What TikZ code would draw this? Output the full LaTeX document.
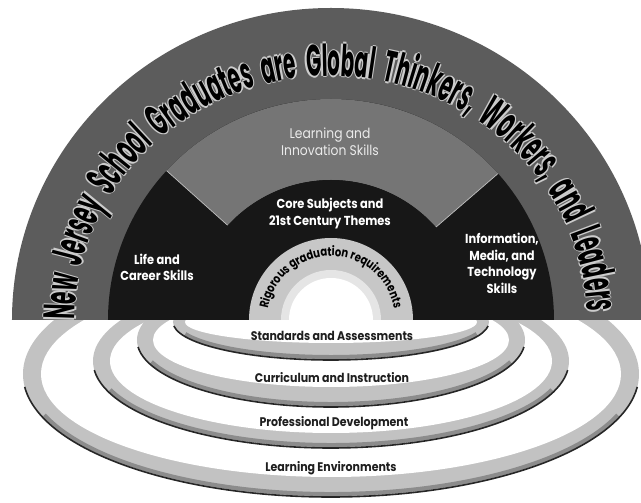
\documentclass[tikz,border=0pt]{standalone}
\usepackage{fontspec}
\setmainfont{Poppins}
\newfontfamily\labfont{Poppins}[FakeStretch=0.88]
\newfontfamily\rigfont{Poppins}[FakeStretch=0.8]
\newfontfamily\titfont{Poppins}[FakeStretch=0.45]
\usetikzlibrary{decorations.text}
\definecolor{outerband}{gray}{0.36}
\definecolor{sectorgray}{gray}{0.46}
\definecolor{darkreg}{gray}{0.09}
\definecolor{platebnd}{gray}{0.76}
\definecolor{ringgray}{gray}{0.78}
\tikzset{
  lab/.style={text=white, align=center, inner sep=0pt,
    font=\labfont\bfseries\fontsize{13}{16.5}\selectfont},
  lablight/.style={text=white!92!black, align=center, inner sep=0pt,
    font=\labfont\fontsize{14}{17}\selectfont},
  platelab/.style={text=black!88, inner sep=0pt,
    font=\labfont\bfseries\fontsize{12.5}{14}\selectfont},
  rim/.style={draw=black!85, line width=1.6pt},
  rimshade/.style={draw=black!45, line width=4pt},
  titlehalo/.style={decorate, decoration={text along path,
    text align={fit to path stretching spaces}, raise=#1,
    text={|\titfont\bfseries\fontsize{44}{44}\selectfont\color{white!80!black}|New Jersey School Graduates are Global Thinkers, Workers, and Leaders}}},
}
\begin{document}
\begin{tikzpicture}[x=1pt,y=1pt]
\useasboundingbox (-331,-183) rectangle (310,320);
\clip (-331,-183) rectangle (310,320);
\fill[white] (-331,-183) rectangle (310,320);

% ---- stacked plates (largest first)
\foreach \cy/\rx/\ry/\irx/\iry in {-54/308/123/290/103, -41/238/87/221/72, -20/194/67/178/47, -2/158/38/146/21} {
  \fill[platebnd] (0,\cy) ellipse [x radius=\rx, y radius=\ry];
  \draw[rimshade] (0,\cy) ++(200:{\rx-3} and {\ry-3}) arc[start angle=200, end angle=340, x radius=\rx-3, y radius=\ry-3];
  \draw[rim] (0,\cy) ++(186:{\rx} and {\ry}) arc[start angle=186, end angle=354, x radius=\rx, y radius=\ry];
  \fill[white] (0,\cy) ellipse [x radius=\irx, y radius=\iry];
}

% ---- semicircle
\fill[outerband] (-319,0) arc[start angle=180, end angle=0, x radius=319, y radius=312] -- cycle;
\fill[darkreg] (-223,0) arc[start angle=180, end angle=0, x radius=223, y radius=221] -- cycle;
\fill[sectorgray] (137.5:140) -- (137.5:223 and 221)
   arc[start angle=137.5, end angle=41.5, x radius=223, y radius=221]
   -- (41.5:140) arc[start angle=41.5, end angle=137.5, radius=140] -- cycle;
\draw[black!25, line width=0.7pt] (137.5:223 and 221) -- (137.5:140);
\draw[black!25, line width=0.7pt] (41.5:223 and 221) -- (41.5:140);
\fill[darkreg] (-140,0) arc[start angle=180, end angle=0, radius=140] -- cycle;

% inner disc
\fill[ringgray] (-82,0) arc[start angle=180, end angle=0, radius=82] -- cycle;
\fill[black!10] (-50,0) arc[start angle=180, end angle=0, radius=50] -- cycle;
\fill[white] (-42,0) arc[start angle=180, end angle=0, radius=42] -- cycle;

% ---- title along the outer band (white halo, then black)
\path[titlehalo=1.3pt] (180:256 and 244) arc[start angle=180, end angle=2, x radius=256, y radius=244];
\path[titlehalo=-1.3pt] (180:256 and 244) arc[start angle=180, end angle=2, x radius=256, y radius=244];
\path[titlehalo=0pt] (180.35:256 and 244) arc[start angle=180.35, end angle=2.35, x radius=256, y radius=244];
\path[titlehalo=0pt] (179.65:256 and 244) arc[start angle=179.65, end angle=1.65, x radius=256, y radius=244];
\path[decorate, decoration={text along path, text align={fit to path stretching spaces},
  text={|\titfont\bfseries\fontsize{44}{44}\selectfont\color{black}|New Jersey School Graduates are Global Thinkers, Workers, and Leaders}}]
  (180:256 and 244) arc[start angle=180, end angle=2, x radius=256, y radius=244];

% ---- rigorous text
\path[decorate, decoration={text along path, text align=center,
  text={|\rigfont\bfseries\fontsize{12.5}{12.5}\selectfont\color{black}|Rigorous graduation requirements}}]
  (173:64) arc[start angle=173, end angle=7, radius=64];

% ---- labels
\node[lablight] (learn) at (-1,178.5) {Learning and\\Innovation Skills};
\node[lab] (core) at (-1,106.5) {Core Subjects and\\21st Century Themes};
\node[lab] (life) at (-174,52.5) {Life and\\Career Skills};
\node[lab] (info) at (171,56.5) {Information,\\Media, and\\Technology\\Skills};

\node[platelab] (std) at (1,-16) {Standards and Assessments};
\node[platelab] (cur) at (1,-58) {Curriculum and Instruction};
\node[platelab] (pro) at (3,-103) {Professional Development};
\node[platelab] (env) at (0,-148) {Learning Environments};
\end{tikzpicture}
\end{document}
